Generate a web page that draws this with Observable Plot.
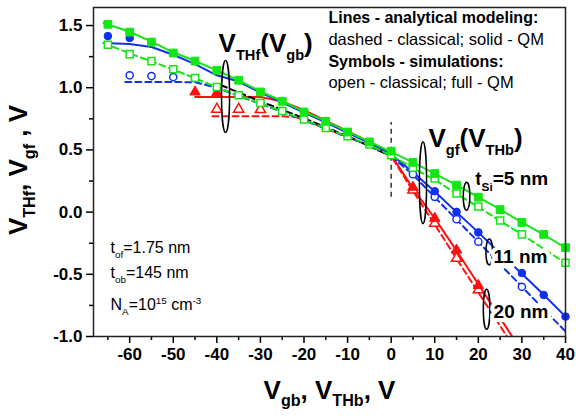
<!DOCTYPE html>
<html>
<head>
<meta charset="utf-8">
<script src="https://cdn.jsdelivr.net/npm/d3@7"></script>
<script src="https://cdn.jsdelivr.net/npm/@observablehq/plot@0.6"></script>
<style>
  html, body { margin: 0; padding: 0; background: #fff; }
  #chart { width: 576px; height: 416px; }
</style>
</head>
<body>
<div id="chart"></div>
<script>
// ---------- data ----------
// tSi = 5 nm (green)
const gFullX = [-65,-60,-55,-50,-45,-40,-35,-30,-25,-20,-15,-10,-5,0,5,10,15,20,25,30,35,40];
const gFullY = [1.51,1.447,1.367,1.279,1.214,1.14,1.06,0.966,0.891,0.805,0.73,0.644,0.564,0.49,0.40,0.31,0.217,0.12,0.02,-0.083,-0.179,-0.286];
const gOpenX = [-65,-60,-55,-50,-45,-40,-35,-30,-25,-20,-15,-10,-5,0,5,10,15,20,25,30,40];
const gOpenY = [1.346,1.27,1.214,1.148,1.078,1.006,0.939,0.877,0.813,0.744,0.677,0.61,0.543,0.457,0.358,0.27,0.15,0.045,-0.067,-0.179,-0.407];
const gQmX = [-66,-60,-55,-50,-45,-40,-35,-30,-25,-20,-15,-10,-5,0,5,10,15,20,25,30,35,40];
const gQmY = [1.52,1.45,1.37,1.285,1.215,1.14,1.06,0.97,0.893,0.808,0.732,0.647,0.566,0.485,0.40,0.31,0.217,0.12,0.022,-0.083,-0.18,-0.288];
const gClX = [-66,-60,-55,-50,-45,-40,-35,-30,-25,-20,-15,-10,-5,0,5,10,15,20,25,30,35,40];
const gClY = [1.36,1.275,1.212,1.146,1.076,1.004,0.937,0.874,0.81,0.742,0.675,0.607,0.54,0.455,0.355,0.26,0.148,0.04,-0.07,-0.18,-0.295,-0.41];
// tSi = 11 nm (blue)
const bFullX = [-65,-60,10,15,20,30,35,40];
const bFullY = [1.415,1.40,0.168,0.002,-0.163,-0.49,-0.666,-0.84];
const bOpenX = [-60,-55,-50,5,10,15,20,30];
const bOpenY = [1.10,1.094,1.086,0.305,0.123,-0.057,-0.238,-0.6];
const bQmX = [-66,-60,-55,-50,-45,-40,-35,-30,-25,-20,-15,-10,-5,0,5,10,15,20,25,30,35,40];
const bQmY = [1.36,1.352,1.327,1.265,1.19,1.10,1.05,0.96,0.882,0.80,0.722,0.637,0.556,0.465,0.32,0.165,0.0,-0.163,-0.33,-0.495,-0.665,-0.84];
const bClX = [-61,-50,-45,-40,-35,-30,-25,-20,-15,-10,-5,0,5,10,15,20,25,30,35,40];
const bClY = [1.046,1.046,1.044,1.0,0.934,0.870,0.806,0.738,0.670,0.603,0.536,0.45,0.3,0.12,-0.06,-0.24,-0.42,-0.6,-0.78,-0.96];
// tSi = 20 nm (red)
const rFullX = [-45,-40,5,10,15,20];
const rFullY = [0.966,0.96,0.2,-0.05,-0.305,-0.59];
const rOpenX = [-40,-35,-30,5,10,15,20];
const rOpenY = [0.827,0.827,0.824,0.177,-0.09,-0.372,-0.625];
const rQmX = [-45,-30,-25,-20,-15,-10,-5,0,5,10,15,20,25,28.5];
const rQmY = [0.925,0.925,0.89,0.82,0.735,0.65,0.565,0.46,0.19,-0.05,-0.31,-0.58,-0.85,-1.04];
const rClX = [-41,-25,-22,-20,-15,-10,-5,0,5,10,15,20,25,27.5];
const rClY = [0.77,0.77,0.765,0.742,0.672,0.605,0.537,0.45,0.17,-0.1,-0.375,-0.645,-0.915,-1.05];
// black dashed (classical, common)
const kX = [-39,-30,-20,-10,0];
const kY = [1.02,0.89,0.755,0.61,0.45];
// ellipse annotation centres
const ellX = [-38, 7.3, 17.3, 22.5, 21.9];
const ellY = [0.93, 0.237, 0.128, -0.32, -0.78];
// axes ticks
const xMajor = [-60,-50,-40,-30,-20,-10,0,10,20,30,40];
const xMinor = [-65,-55,-45,-35,-25,-15,-5,5,15,25,35];
const yMajor = [-1.0,-0.5,0.0,0.5,1.0,1.5];
const yMinor = [-0.75,-0.25,0.25,0.75,1.25];

// ---------- helpers ----------
const GREEN = "#14e614", BLUE = "#1030f0", RED = "#ff1010";
const FONT = "Liberation Sans, Arial, Helvetica, sans-serif";
const pts = (xs, ys) => xs.map((x, i) => ({x, y: ys[i]}));

function ellipseSymbol(rx, ry) {
  const k = 0.5523;
  return {draw(c) {
    c.moveTo(rx, 0);
    c.bezierCurveTo(rx, ry * k, rx * k, ry, 0, ry);
    c.bezierCurveTo(-rx * k, ry, -rx, ry * k, -rx, 0);
    c.bezierCurveTo(-rx, -ry * k, -rx * k, -ry, 0, -ry);
    c.bezierCurveTo(rx * k, -ry, rx, -ry * k, rx, 0);
    c.closePath();
  }};
}
const ellSizes = [[4, 36], [3.6, 41], [3.3, 14], [3.3, 13], [3.3, 20]];

function label(t, x, y, o = {}) {
  return Plot.text([{x, y, t}], {
    x: "x", y: "y", text: "t", textAnchor: "start", lineAnchor: "bottom",
    fontFamily: FONT, fill: "black", ...o
  });
}

const solid = (data, color) => Plot.line(data, {x: "x", y: "y", stroke: color, strokeWidth: 2, clip: true});
const dashed = (data, color) => Plot.line(data, {x: "x", y: "y", stroke: color, strokeWidth: 2, strokeDasharray: "6,4", clip: true});

const TITLE1 = "V_{THf}(V_{gb})", TITLE2 = "V_{gf}(V_{THb})";

const marks = [
  // lines
  dashed(pts(rClX, rClY), RED),
  solid(pts(rQmX, rQmY), RED),
  dashed(pts(bClX, bClY), BLUE),
  solid(pts(bQmX, bQmY), BLUE),
  dashed(pts(kX, kY), "black"),
  dashed(pts(gClX, gClY), GREEN),
  solid(pts(gQmX, gQmY), GREEN),
  Plot.ruleX([0], {y1: 0.12, y2: 0.72, stroke: "#333", strokeWidth: 1.5, strokeDasharray: "5,4"}),
  // symbols
  Plot.dot(pts(rOpenX, rOpenY), {x: "x", y: "y", symbol: "triangle", r: 3.8, stroke: RED, fill: "white", strokeWidth: 1.5}),
  Plot.dot(pts(rFullX, rFullY), {x: "x", y: "y", symbol: "triangle", r: 3.9, stroke: RED, fill: RED, strokeWidth: 1}),
  Plot.dot(pts(bOpenX, bOpenY), {x: "x", y: "y", symbol: "circle", r: 3.6, stroke: BLUE, fill: "white", strokeWidth: 1.5}),
  Plot.dot(pts(bFullX, bFullY), {x: "x", y: "y", symbol: "circle", r: 3.8, stroke: BLUE, fill: BLUE, strokeWidth: 1}),
  Plot.dot(pts(gOpenX, gOpenY), {x: "x", y: "y", symbol: "square", r: 4.0, stroke: GREEN, fill: "white", strokeWidth: 1.5}),
  Plot.dot(pts(gFullX, gFullY), {x: "x", y: "y", symbol: "square", r: 4.4, stroke: GREEN, fill: GREEN, strokeWidth: 1}),
  // ellipses
  ...ellX.map((ex, i) => Plot.dot([{x: ex, y: ellY[i]}], {x: "x", y: "y", symbol: ellipseSymbol(...ellSizes[i]), stroke: "black", fill: "none", strokeWidth: 1.5})),
  // annotations
  label("Lines - analytical modeling:", -14.4, 1.517, {fontSize: 16, fontWeight: "bold"}),
  label("dashed - classical; solid - QM", -14.4, 1.340, {fontSize: 16.5, fontWeight: "normal"}),
  label("Symbols - simulations:", -14.4, 1.164, {fontSize: 16, fontWeight: "bold"}),
  label("open - classical; full - QM", -14.4, 0.995, {fontSize: 16.5, fontWeight: "normal"}),
  label(TITLE1, -39.6, 1.284, {fontSize: 26, fontWeight: "bold"}),
  label(TITLE2, 8.55, 0.522, {fontSize: 26, fontWeight: "bold"}),
  label("t_{Si}=5 nm", 19.3, 0.217, {fontSize: 19, fontWeight: "bold", stroke: "white", strokeWidth: 5}),
  label("11 nm", 23.5, -0.409, {fontSize: 19, fontWeight: "bold", stroke: "white", strokeWidth: 8}),
  label("20 nm", 23.5, -0.851, {fontSize: 19, fontWeight: "bold", stroke: "white", strokeWidth: 8}),
  label("t_{of}=1.75 nm", -64.4, -0.329, {fontSize: 16, fontWeight: "normal"}),
  label("t_{ob}=145 nm", -64.4, -0.530, {fontSize: 16, fontWeight: "normal"}),
  label("N_{A}=10^{15} cm^{-3}", -64.4, -0.787, {fontSize: 16, fontWeight: "normal"}),
  // axes
  Plot.axisX({ticks: xMajor, tickSize: 7, tickPadding: 4, strokeWidth: 1.5, tickFormat: d => String(d), fontSize: 17, fontWeight: "bold", fontFamily: FONT, label: null}),
  Plot.axisX({ticks: xMinor, tickSize: 4, strokeWidth: 1.5, tickFormat: () => "", label: null}),
  Plot.axisY({ticks: yMajor, tickSize: 7, tickPadding: 4, strokeWidth: 1.5, tickFormat: d => d.toFixed(1), fontSize: 17, fontWeight: "bold", fontFamily: FONT, label: null}),
  Plot.axisY({ticks: yMinor, tickSize: 4, strokeWidth: 1.5, tickFormat: () => "", label: null}),
  Plot.text(["V_{gb}, V_{THb}, V"], {frameAnchor: "bottom", textAnchor: "middle", lineAnchor: "bottom", dy: 62, fontSize: 26, fontWeight: "bold", fontFamily: FONT}),
  Plot.text(["V_{THf}, V_{gf} , V"], {frameAnchor: "left", textAnchor: "middle", lineAnchor: "middle", rotate: -90, dx: -75, dy: -2, fontSize: 26, fontWeight: "bold", fontFamily: FONT}),
  Plot.frame({stroke: "#222", strokeWidth: 1.5})
];

const chart = Plot.plot({
  width: 576, height: 416,
  marginLeft: 93, marginRight: 11, marginTop: 7, marginBottom: 80,
  x: {domain: [-68.3, 40]},
  y: {domain: [-1.0, 1.645]},
  style: {fontFamily: FONT, background: "white", color: "black"},
  marks
});
document.getElementById("chart").appendChild(chart);

// rich text: _{sub} and ^{sup}
const NS = "http://www.w3.org/2000/svg";
chart.querySelectorAll("text").forEach(t => {
  const s = t.textContent;
  if (!/[_^]\{/.test(s)) return;
  const isTitle = s === TITLE1 || s === TITLE2;
  const subScale = isTitle ? 0.56 : 0.62;
  const fs = parseFloat(getComputedStyle(t).fontSize) || 16;
  const parts = [];
  const re = /([_^])\{([^}]*)\}/g;
  let last = 0, m;
  while ((m = re.exec(s))) {
    if (m.index > last) parts.push({t: s.slice(last, m.index), k: ""});
    parts.push({t: m[2], k: m[1]});
    last = re.lastIndex;
  }
  if (last < s.length) parts.push({t: s.slice(last), k: ""});
  while (t.firstChild) t.removeChild(t.firstChild);
  let shift = 0;
  for (const p of parts) {
    const ts = document.createElementNS(NS, "tspan");
    const target = p.k === "_" ? 0.3 * fs : p.k === "^" ? -0.4 * fs : 0;
    ts.setAttribute("dy", (target - shift).toFixed(2));
    shift = target;
    if (p.k) ts.setAttribute("font-size", (subScale * fs).toFixed(1));
    ts.textContent = p.t;
    t.appendChild(ts);
  }
});
</script>
</body>
</html>
